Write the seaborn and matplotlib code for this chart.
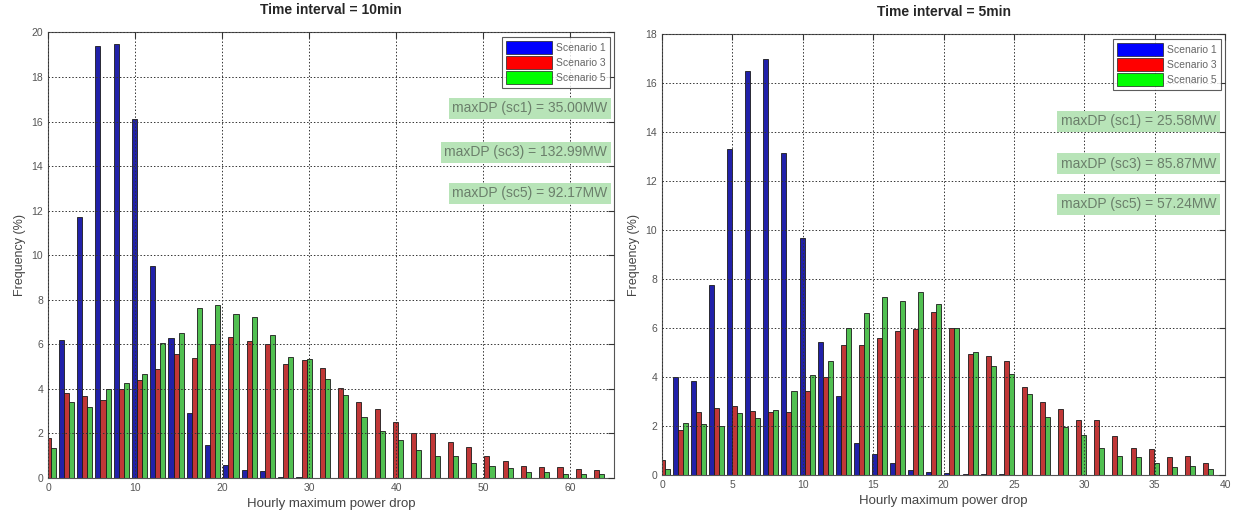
import pandas as pd
import matplotlib
matplotlib.use("Agg")
import matplotlib.pyplot as plt
import matplotlib.patches as mpatches
import seaborn as sns

# Dados (frequencia em %)
cenarios = ["Scenario 1", "Scenario 3", "Scenario 5"]
cores = ["#0a0ac0", "#d82020", "#3ed23e"]
cores_legenda = ["#0000ff", "#ff0000", "#00ff00"]

# intervalo de 10 min
bins_10 = [0, 2.1, 4.2, 6.3, 8.4, 10.5, 12.6, 14.7, 16.8, 18.9, 21.0, 23.1, 25.2, 27.3, 29.4,
           31.5, 33.6, 35.7, 37.8, 39.9, 42.0, 44.1, 46.2, 48.3, 50.4, 52.5, 54.6, 56.7, 58.8, 60.9, 63.0]
sc1_10 = [0, 6.2, 11.7, 19.4, 19.5, 16.1, 9.5, 6.3, 2.9, 1.5, 0.6, 0.35, 0.3, 0.05, 0.05,
          0, 0.02, 0, 0, 0, 0, 0, 0, 0, 0, 0, 0, 0, 0, 0, 0]
sc3_10 = [1.8, 3.8, 3.7, 3.5, 4.0, 4.4, 4.9, 5.55, 5.4, 6.0, 6.35, 6.15, 6.0, 5.1, 5.3,
          4.93, 4.03, 3.43, 3.09, 2.51, 2.04, 2.01, 1.61, 1.39, 1.01, 0.75, 0.52, 0.49, 0.49, 0.42, 0.34]
sc5_10 = [1.35, 3.4, 3.2, 4.0, 4.28, 4.65, 6.05, 6.5, 7.65, 7.75, 7.35, 7.22, 6.42, 5.45, 5.32,
          4.43, 3.73, 2.76, 2.09, 1.69, 1.24, 1.0, 0.97, 0.67, 0.52, 0.45, 0.25, 0.25, 0.19, 0.18, 0.16]
maxdp_10 = ["maxDP (sc1) = 35.00MW", "maxDP (sc3) = 132.99MW", "maxDP (sc5) = 92.17MW"]

# intervalo de 5 min
bins_5 = [0, 1.29, 2.57, 3.86, 5.15, 6.44, 7.72, 9.01, 10.3, 11.58, 12.87, 14.16, 15.44, 16.73, 18.02,
          19.3, 20.59, 21.88, 23.17, 24.45, 25.74, 27.03, 28.31, 29.6, 30.89, 32.17, 33.46, 34.75,
          36.04, 37.32, 38.61]
sc1_5 = [0, 4.0, 3.85, 7.78, 13.3, 16.5, 17.0, 13.15, 9.7, 5.42, 3.22, 1.3, 0.86, 0.48, 0.2,
         0.14, 0.08, 0.02, 0.02, 0.02, 0, 0, 0, 0, 0, 0, 0, 0, 0, 0, 0]
sc3_5 = [0.62, 1.85, 2.56, 2.74, 2.81, 2.6, 2.56, 2.58, 3.45, 4.0, 5.3, 5.32, 5.58, 5.89, 5.96,
         6.64, 5.99, 4.93, 4.84, 4.66, 3.6, 2.99, 2.7, 2.23, 2.23, 1.58, 1.1, 1.05, 0.75, 0.79, 0.48]
sc5_5 = [0.25, 2.12, 2.1, 1.99, 2.53, 2.33, 2.67, 3.42, 4.08, 4.66, 5.99, 6.6, 7.26, 7.12, 7.47,
         6.99, 6.0, 5.03, 4.45, 4.11, 3.29, 2.37, 1.95, 1.64, 1.12, 0.79, 0.73, 0.48, 0.32, 0.37, 0.25]
maxdp_5 = ["maxDP (sc1) = 25.58MW", "maxDP (sc3) = 85.87MW", "maxDP (sc5) = 57.24MW"]


def montar_df(bins, s1, s3, s5):
    partes = []
    for nome, vals in zip(cenarios, [s1, s3, s5]):
        partes.append(pd.DataFrame({"x": bins, "freq": vals, "cenario": nome}))
    return pd.concat(partes, ignore_index=True)


sns.set_style("white")
plt.rcParams["font.family"] = ["Liberation Sans", "DejaVu Sans"]

fig = plt.figure(figsize=(12.33, 5.14), dpi=100)
ax1 = fig.add_axes([0.039, 0.070, 0.459, 0.867])
ax2 = fig.add_axes([0.537, 0.076, 0.4566, 0.857])

configs = [
    (ax1, montar_df(bins_10, sc1_10, sc3_10, sc5_10), "Time interval = 10min", (0, 65), 10, (0, 20),
     maxdp_10, 0.988, [0.83, 0.731, 0.639]),
    (ax2, montar_df(bins_5, sc1_5, sc3_5, sc5_5), "Time interval = 5min", (0, 40), 5, (0, 18),
     maxdp_5, 0.984, [0.803, 0.707, 0.615]),
]

for ax, df, titulo, xlim, xpasso, ylim, textos, tx, tys in configs:
    sns.barplot(data=df, x="x", y="freq", hue="cenario", hue_order=cenarios,
                palette=cores, native_scale=True, width=0.84, errorbar=None,
                edgecolor="#1a1a1a", linewidth=0.6, legend=False, ax=ax)
    ax.set_xlim(*xlim)
    ax.set_ylim(*ylim)
    ax.set_xticks(range(xlim[0], xlim[1] + 1, xpasso))
    ax.set_yticks(range(ylim[0], ylim[1] + 1, 2))
    ax.grid(True, linestyle=(0, (1.5, 2)), color="#333333", linewidth=0.7)
    ax.set_axisbelow(False)
    ax.tick_params(direction="in", top=True, right=True, length=4, labelsize=7.5,
                   colors="#333333", labelcolor="#555555")
    for sp in ax.spines.values():
        sp.set_visible(True)
        sp.set_color("#555555")
        sp.set_linewidth(0.8)
    ax.set_title(titulo, fontsize=10, fontweight="bold", pad=13)
    ax.set_xlabel("Hourly maximum power drop", fontsize=9.5, color="#444444", labelpad=4)
    ax.set_ylabel("Frequency (%)", fontsize=9, color="#444444", labelpad=4)

    handles = [mpatches.Patch(facecolor=c, edgecolor="#202020", linewidth=0.5, label=n)
               for c, n in zip(cores_legenda, cenarios)]
    leg = ax.legend(handles=handles, loc="upper right", fontsize=7.5, frameon=True,
                    fancybox=False, edgecolor="#333333", borderaxespad=0.4,
                    handlelength=4.4, handleheight=1.6, handletextpad=0.4,
                    labelspacing=0.15, borderpad=0.4)
    leg.get_frame().set_linewidth(0.8)
    for t in leg.get_texts():
        t.set_color("#666666")

    for texto, ty in zip(textos, tys):
        ax.text(tx, ty, texto, transform=ax.transAxes, ha="right", va="center",
                fontsize=10, color="#6b7f6b",
                bbox=dict(facecolor="#b8e4b8", edgecolor="none", pad=2.5))

plt.savefig("out.png", dpi=100)
plt.close()
